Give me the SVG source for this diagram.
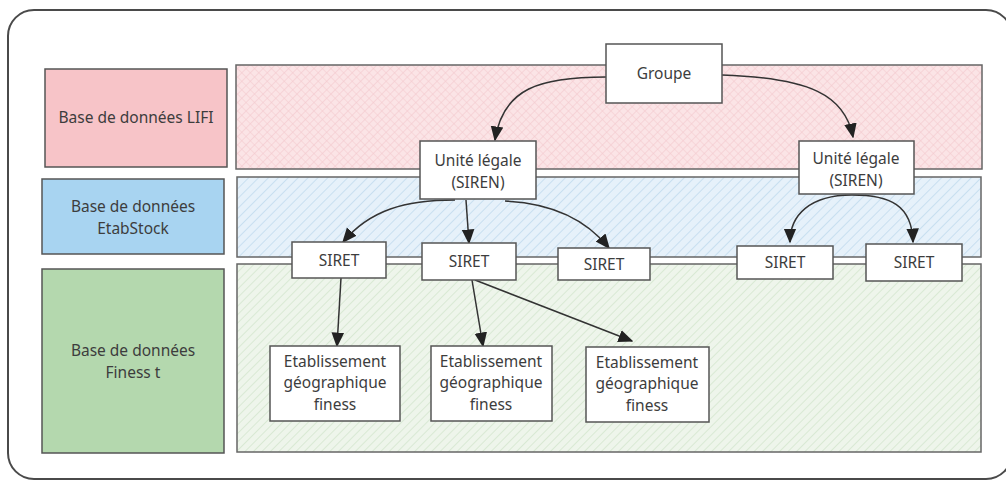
<svg xmlns="http://www.w3.org/2000/svg" width="1006" height="482" viewBox="0 0 1006 482">
<style>
.lbl{stroke:#555;stroke-width:1.5}
.lane{stroke:#666;stroke-width:1.5}
.box{fill:#fff;stroke:#555;stroke-width:1.5}
text{font-family:"Noto Sans","Liberation Sans",sans-serif;font-size:15.5px;fill:#3d3d3d;text-anchor:middle}
.edge{fill:none;stroke:#333;stroke-width:1.5}
</style>
<defs>
<pattern id="hp" width="6" height="6" patternUnits="userSpaceOnUse" patternTransform="rotate(45)">
<rect width="6" height="6" fill="#fbe4e6"/>
<path d="M0 0H6M0 0V6" stroke="#f3c9cd" stroke-width="1.2"/>
</pattern>
<pattern id="hb" width="7" height="7" patternUnits="userSpaceOnUse" patternTransform="rotate(-45)">
<rect width="7" height="7" fill="#e6f1fa"/>
<path d="M0 0H7" stroke="#c8dff0" stroke-width="2"/>
</pattern>
<pattern id="hg" width="6" height="6" patternUnits="userSpaceOnUse" patternTransform="rotate(-45)">
<rect width="6" height="6" fill="#eef5eb"/>
<path d="M0 0H6" stroke="#d3e6cd" stroke-width="1.5"/>
</pattern>
<marker id="ah" viewBox="0 0 10 10" refX="9" refY="5" markerWidth="15" markerHeight="15" markerUnits="userSpaceOnUse" orient="auto">
<path d="M0 0.8L10 5L0 9.2z" fill="#222"/>
</marker>
</defs>
<rect x="8" y="10" width="1004" height="469" rx="26" fill="#fff" stroke="#4a4a4a" stroke-width="2"/>
<g id="label-lifi"><rect class="lbl" x="45" y="69" width="182" height="98" fill="#f7c4c8"/><text x="136" y="123">Base de données LIFI</text></g>
<g id="label-etabstock"><rect class="lbl" x="42" y="179" width="182" height="75" fill="#a8d4f1"/><text x="133" y="212">Base de données</text><text x="133" y="234">EtabStock</text></g>
<g id="label-finess"><rect class="lbl" x="42" y="269" width="182" height="184" fill="#b4d8ae"/><text x="133" y="356">Base de données</text><text x="133" y="378">Finess t</text></g>
<g id="lane-lifi"><rect class="lane" x="236" y="65" width="746" height="104" fill="url(#hp)"/></g>
<g id="lane-etabstock"><rect class="lane" x="237" y="177" width="744" height="80" fill="url(#hb)"/></g>
<g id="lane-finess"><rect class="lane" x="237" y="264" width="744" height="188" fill="url(#hg)"/></g>
<g id="connectors">
<path class="edge" d="M606 77C540 77 503 88 495 140" marker-end="url(#ah)"/>
<path class="edge" d="M722 75C810 78 845 95 853 137" marker-end="url(#ah)"/>
<path class="edge" d="M455 200C405 200 370 210 343 242" marker-end="url(#ah)"/>
<path class="edge" d="M466 200L469 243" marker-end="url(#ah)"/>
<path class="edge" d="M505 201C550 203 585 218 609 248" marker-end="url(#ah)"/>
<path class="edge" d="M852 195C810 195 790 215 790 242" marker-end="url(#ah)"/>
<path class="edge" d="M852 195C890 195 912 205 913 242" marker-end="url(#ah)"/>
<path class="edge" d="M341 278L337 346" marker-end="url(#ah)"/>
<path class="edge" d="M472 280L483 346" marker-end="url(#ah)"/>
<path class="edge" d="M475 280L632 341" marker-end="url(#ah)"/>
</g>
<g id="groupe"><rect class="box" x="606" y="44" width="116" height="59"/><text x="664" y="79">Groupe</text></g>
<g id="ul1"><rect class="box" x="420" y="141" width="116" height="58"/><text x="478" y="166">Unité légale</text><text x="478" y="188">(SIREN)</text></g>
<g id="ul2"><rect class="box" x="799" y="141" width="115" height="53"/><text x="856" y="164">Unité légale</text><text x="856" y="186">(SIREN)</text></g>
<g id="siret1"><rect class="box" x="292" y="242" width="94" height="36"/><text x="339" y="266">SIRET</text></g>
<g id="siret2"><rect class="box" x="422" y="243" width="94" height="37"/><text x="469" y="267">SIRET</text></g>
<g id="siret3"><rect class="box" x="558" y="248" width="92" height="32"/><text x="604" y="270">SIRET</text></g>
<g id="siret4"><rect class="box" x="737" y="246" width="96" height="33"/><text x="785" y="268">SIRET</text></g>
<g id="siret5"><rect class="box" x="866" y="244" width="96" height="37"/><text x="914" y="268">SIRET</text></g>
<g id="etab1"><rect class="box" x="270" y="346" width="130" height="75"/><text x="335" y="367">Etablissement</text><text x="335" y="388">géographique</text><text x="335" y="410">finess</text></g>
<g id="etab2"><rect class="box" x="431" y="346" width="121" height="75"/><text x="491" y="367">Etablissement</text><text x="491" y="388">géographique</text><text x="491" y="410">finess</text></g>
<g id="etab3"><rect class="box" x="586" y="347" width="123" height="75"/><text x="647" y="368">Etablissement</text><text x="647" y="389">géographique</text><text x="647" y="411">finess</text></g>
</svg>
